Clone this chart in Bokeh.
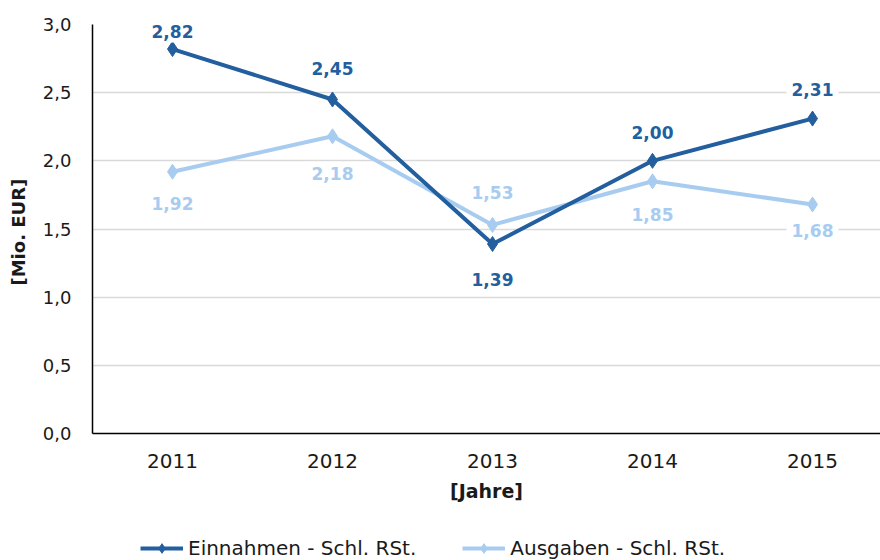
from bokeh.plotting import figure
from bokeh.layouts import column
from bokeh.models import ColumnDataSource, Range1d, FixedTicker, Legend, LegendItem, CustomJSTickFormatter
from bokeh.core.properties import value
from bokeh.embed import file_html
from bokeh.resources import INLINE

years = [2011, 2012, 2013, 2014, 2015]
einnahmen = [2.82, 2.45, 1.39, 2.00, 2.31]
ausgaben = [1.92, 2.18, 1.53, 1.85, 1.68]
y_ticks = [0.0, 0.5, 1.0, 1.5, 2.0, 2.5, 3.0]
series_names = ["Einnahmen - Schl. RSt.", "Ausgaben - Schl. RSt."]

# label placement (screen pixels, positive = down; style only)
ein_off = [-18, -31, 36, -28, -29]
aus_off = [32, 37, -32, 33, 26]

dark = "#235f9f"
light = "#a8ccf0"

p = figure(width=880, height=536, output_backend="svg", toolbar_location=None,
           x_range=Range1d(2010.5, 2015.425), y_range=Range1d(0, 3.0),
           min_border_left=92, min_border_right=0, min_border_top=24, min_border_bottom=103)
p.outline_line_color = None
p.background_fill_color = "white"
p.border_fill_color = "white"

p.xgrid.grid_line_color = None
p.ygrid.grid_line_color = "#d9d9d9"
p.ygrid.grid_line_width = 1.5

p.xaxis.ticker = FixedTicker(ticks=years)
p.yaxis.ticker = FixedTicker(ticks=y_ticks)
p.yaxis.formatter = CustomJSTickFormatter(code="return tick.toFixed(1).replace('.', ',');")
p.xaxis.formatter = CustomJSTickFormatter(code="return tick.toFixed(0);")

for ax in (p.xaxis[0], p.yaxis[0]):
    ax.axis_line_color = "black"
    ax.axis_line_width = 1.5
    ax.major_tick_line_color = None
    ax.minor_tick_line_color = None
    ax.major_tick_out = 0
    ax.major_tick_in = 0
    ax.minor_tick_out = 0
    ax.minor_tick_in = 0
    ax.major_label_text_color = "#1a1a1a"
    ax.axis_label_text_color = "#1a1a1a"

p.yaxis.major_label_text_font = "DejaVu Sans"
p.yaxis.major_label_text_font_size = "18px"
p.yaxis.major_label_standoff = 21
p.yaxis.axis_label = "[Mio.  EUR]"
p.yaxis.axis_label_text_font = "DejaVu Sans"
p.yaxis.axis_label_text_font_style = "bold"
p.yaxis.axis_label_text_font_size = "18px"
p.yaxis.axis_label_standoff = 11

p.xaxis.major_label_text_font = "DejaVu Sans"
p.xaxis.major_label_text_font_size = "20px"
p.xaxis.major_label_standoff = 20
p.xaxis.axis_label = "[Jahre]"
p.xaxis.axis_label_text_font = "DejaVu Sans"
p.xaxis.axis_label_text_font_style = "bold"
p.xaxis.axis_label_text_font_size = "19px"
p.xaxis.axis_label_standoff = 9

src_e = ColumnDataSource(dict(x=years, y=einnahmen, t=[f"{v:.2f}".replace(".", ",") for v in einnahmen], off=ein_off))
src_a = ColumnDataSource(dict(x=years, y=ausgaben, t=[f"{v:.2f}".replace(".", ",") for v in ausgaben], off=aus_off))

p.line("x", "y", source=src_a, line_color=light, line_width=4)
p.scatter("x", "y", source=src_a, marker="diamond", size=15, fill_color=light, line_color=light)
p.line("x", "y", source=src_e, line_color=dark, line_width=4)
p.scatter("x", "y", source=src_e, marker="diamond", size=15, fill_color=dark, line_color=dark)

for src, col in ((src_a, light), (src_e, dark)):
    p.text(x="x", y="y", text="t", y_offset="off", source=src,
           text_align="center", text_baseline="middle",
           text_font=value("DejaVu Sans"), text_font_style="bold", text_font_size="17px",
           text_color=col, background_fill_color="white", padding=5)

# legend strip below the chart (series drawn off-range so only the legend shows)
lf = figure(width=880, height=24, output_backend="svg", toolbar_location=None,
            x_range=Range1d(0, 1), y_range=Range1d(0, 1),
            x_axis_location=None, y_axis_location=None,
            min_border_left=0, min_border_right=0, min_border_top=0, min_border_bottom=0)
lf.outline_line_color = None
lf.grid.visible = False
k1 = lf.line("x", "y", source=src_e, line_color=dark, line_width=4)
s1 = lf.scatter("x", "y", source=src_e, marker="diamond", size=15, fill_color=dark, line_color=dark)
k2 = lf.line("x", "y", source=src_a, line_color=light, line_width=4)
s2 = lf.scatter("x", "y", source=src_a, marker="diamond", size=15, fill_color=light, line_color=light)

legend = Legend(items=[LegendItem(label=series_names[0], renderers=[k1, s1]),
                       LegendItem(label=series_names[1], renderers=[k2, s2])],
                orientation="horizontal", location=(48, 0),
                label_text_font="DejaVu Sans", label_text_font_size="20px",
                label_text_color="#1a1a1a", glyph_width=43, glyph_height=24,
                spacing=46, label_standoff=5,
                border_line_color=None, background_fill_alpha=0, padding=0, margin=0)
lf.add_layout(legend, "center")

layout = column(p, lf, spacing=0)
open("out.html", "w").write(file_html(layout, INLINE))
